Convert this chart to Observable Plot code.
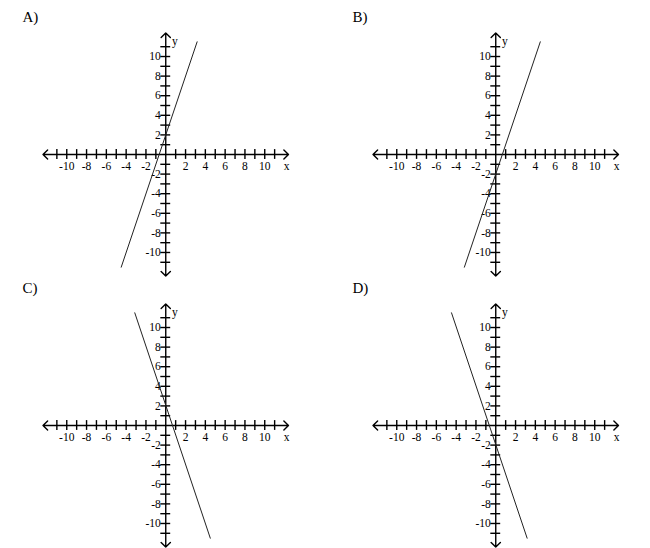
<!DOCTYPE html>
<html>
<head>
<meta charset="utf-8">
<script src="https://cdn.jsdelivr.net/npm/d3@7"></script>
<script src="https://cdn.jsdelivr.net/npm/@observablehq/plot@0.6"></script>
<style>
  html, body { margin: 0; padding: 0; background: white; }
  #wrap { position: relative; width: 650px; height: 548px; overflow: hidden; }
  .panel { position: absolute; width: 330px; }
  .panel svg { overflow: visible; background: transparent; max-width: none !important; }
</style>
</head>
<body>
<div id="wrap"></div>
<script>
// Panel labels and layout slots
const panelLabels = ["A)", "B)", "C)", "D)"];
const panelCol = [0, 1, 0, 1];
const panelRow = [0, 0, 1, 1];

// Line endpoints (x1, y1) -> (x2, y2)
const lineX1 = [-4.5, -3.17, -3.13, -4.47];
const lineY1 = [-11.5, -11.5, 11.5, 11.5];
const lineX2 = [3.17, 4.5, 4.5, 3.17];
const lineY2 = [11.5, 11.5, -11.5, -11.5];

// Axis extent, unit ticks and labelled ticks
const axisMin = -12.4;
const axisMax = 12.4;
const unitTicks = d3.range(-11, 12).filter(d => d !== 0);
const tickLabels = [-10, -8, -6, -4, -2, 2, 4, 6, 8, 10];

const font = "'Liberation Serif', 'Times New Roman', serif";
const wrap = document.getElementById("wrap");

panelLabels.forEach((label, i) => {
  const arrows = [
    {x1: 0, y1: 0, x2: axisMax, y2: 0},
    {x1: 0, y1: 0, x2: axisMin, y2: 0},
    {x1: 0, y1: 0, x2: 0, y2: axisMax},
    {x1: 0, y1: 0, x2: 0, y2: axisMin}
  ];
  const seg = [
    {x: lineX1[i], y: lineY1[i]},
    {x: lineX2[i], y: lineY2[i]}
  ];
  const chart = Plot.plot({
    width: 330,
    height: 285,
    margin: 0,
    style: {fontFamily: font, background: "transparent", overflow: "visible", maxWidth: "none"},
    x: {domain: [axisMin, axisMax], range: [42.5, 288], axis: null},
    y: {domain: [axisMin, axisMax], range: [275.5, 32.5], axis: null},
    marks: [
      Plot.arrow(arrows, {x1: "x1", y1: "y1", x2: "x2", y2: "y2", stroke: "black", strokeWidth: 1.4, headLength: 7, headAngle: 90}),
      Plot.ruleX(unitTicks, {x: d => d, y1: -0.5, y2: 0.5, stroke: "black", strokeWidth: 1.4}),
      Plot.ruleY(unitTicks, {y: d => d, x1: -0.5, x2: 0.5, stroke: "black", strokeWidth: 1.4}),
      Plot.text(tickLabels, {x: d => d, y: 0, dy: 12, text: d => String(d), fontSize: 11.5, fill: "black"}),
      Plot.text(tickLabels, {x: 0, y: d => d, dx: -5, textAnchor: "end", text: d => String(d), fontSize: 11.5, fill: "black"}),
      Plot.text(["y"], {x: 0, y: 11.6, dx: 9, text: d => d, fontSize: 11.5, fill: "black"}),
      Plot.text(["x"], {x: 12.2, y: 0, dy: 12, text: d => d, fontSize: 11.5, fill: "black"}),
      Plot.line(seg, {x: "x", y: "y", stroke: "#222", strokeWidth: 1}),
      Plot.text([label], {frameAnchor: "top-left", dx: 22, dy: 11, text: d => d, fontSize: 15, fill: "black", textAnchor: "start"})
    ]
  });
  const div = document.createElement("div");
  div.className = "panel";
  div.style.left = (panelCol[i] * 330) + "px";
  div.style.top = (panelRow[i] * 271) + "px";
  div.appendChild(chart);
  wrap.appendChild(div);
});
</script>
</body>
</html>
